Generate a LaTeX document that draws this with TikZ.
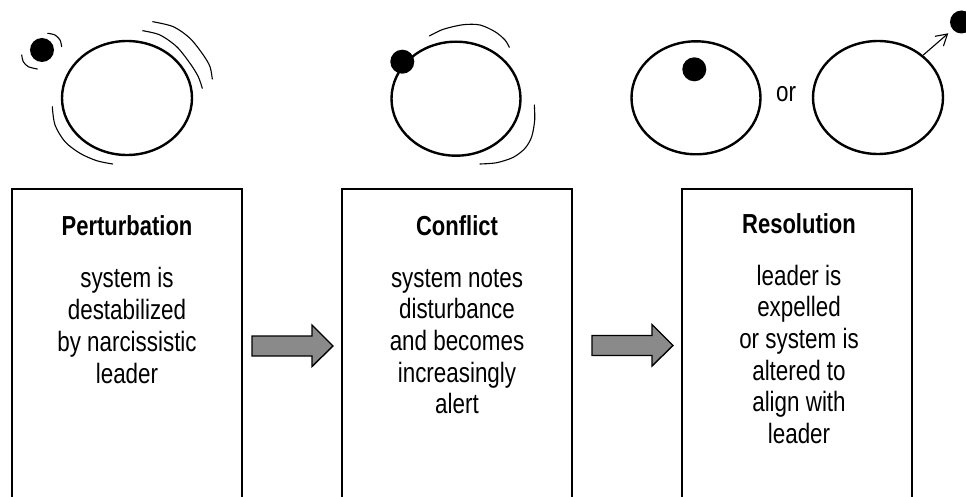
\documentclass[tikz,border=0pt]{standalone}
\usepackage{fontspec}
\setmainfont{Liberation Sans}[FakeStretch=0.8]
\usetikzlibrary{arrows.meta}
\definecolor{arrowgray}{RGB}{138,138,138}
\tikzset{
  sys/.style={line width=2.4pt},
  wave/.style={line width=1.1pt, line cap=round},
  boxframe/.style={line width=1.3pt},
  boxnode/.style={minimum width=230pt, minimum height=312pt, inner sep=0pt, outer sep=0pt, anchor=north west},
  blockarrow/.style={draw, line width=1.4pt, fill=arrowgray, line join=miter},
  titletext/.style={font=\fontsize{27.5}{30}\selectfont\bfseries, anchor=base, inner sep=0pt},
  bodytext/.style={font=\fontsize{28}{31.7}\selectfont, align=center, anchor=base, inner sep=0pt},
}
\begin{document}
\begin{tikzpicture}[x=1pt,y=-1pt]
\useasboundingbox (0,0) rectangle (966,497);
\clip (0,0) rectangle (966,497);

% ---- group 1: perturbation
\draw[sys] (127,98) ellipse (65 and 57);
\fill (42,50) circle (12);
\draw[wave] plot[smooth] coordinates {(47.7,33.3) (55,35) (60,40) (61.7,46.7)};
\draw[wave] plot[smooth] coordinates {(21.7,55) (23.3,61.7) (28.3,66.7) (37.3,69)};
\draw[wave] plot[smooth] coordinates {(142.7,30.7) (160,35) (176.7,46.7) (190,63.3) (198.3,76.7) (202.3,88.3)};
\draw[wave] plot[smooth] coordinates {(152.7,21.7) (173.3,26.7) (190,38.3) (203.3,55) (210,66.7) (212.3,79)};
\draw[wave] plot[smooth] coordinates {(52.3,106.7) (55,125) (65,141.7) (80,153.3) (96.7,160.7) (112.7,164)};

% ---- group 2: conflict
\draw[sys] (456,98.7) ellipse (64.5 and 57);
\fill (402.3,61.7) circle (12);
\draw[wave] plot[smooth] coordinates {(429.3,36) (443.3,29.3) (463.3,24.7) (480,25) (495,31.7) (505,40) (509.3,47.3)};
\draw[wave] plot[smooth] coordinates {(534.3,105) (534.7,120) (531.7,136.7) (525,148.3) (513.3,157.3) (496.7,162.7) (480,164)};

% ---- group 3: resolution
\draw[sys] (696,97.8) ellipse (64.5 and 56.5);
\fill (694.3,69.3) circle (12);
\node[font=\fontsize{28}{30}\selectfont, anchor=base, inner sep=0pt] (ortext) at (786,101.7) {or};
\draw[sys] (878,97.5) ellipse (65 and 56.5);
\fill (961.5,22) circle (11.5);
\coordinate (exitstart) at (923.3,55);
\coordinate (exitend) at (948.3,33.3);
\draw[wave, -{Straight Barb[length=11pt,width=13pt]}] (exitstart) -- (exitend);

% ---- boxes
\node[boxnode] (b1) at (12,189) {};
\node[boxnode] (b2) at (342,189) {};
\node[boxnode] (b3) at (682,189) {};
\foreach \b in {b1,b2,b3}{
  \draw[boxframe] (\b.south west) -- (\b.north west) -- (\b.north east) -- (\b.south east);
}

\node[titletext] (t1) at (127,235) {Perturbation};
\node[titletext] (t2) at (457,235) {Conflict};
\node[titletext] (t3) at (799,233.5) {Resolution};

% body nodes: anchor=base is the baseline of the last line
\node[bodytext] (d1) at (127,383) {system is\\destabilized\\by narcissistic\\leader};
\node[bodytext] (d2) at (457,413.8) {system notes\\disturbance\\and becomes\\increasingly\\alert};
\node[bodytext] (d3) at (799,443.5) {leader is\\expelled\\or system is\\altered to\\align with\\leader};

% ---- block arrows
\coordinate (a1) at (252,346);
\coordinate (a2) at (592,345.5);
\foreach \a in {a1,a2}{
  \draw[blockarrow] (\a) ++(0,-10) -- ++(60,0) -- ++(0,-11) -- ++(21,21) -- ++(-21,20.5) -- ++(0,-10.5) -- ++(-60,0) -- cycle;
}
\end{tikzpicture}
\end{document}
